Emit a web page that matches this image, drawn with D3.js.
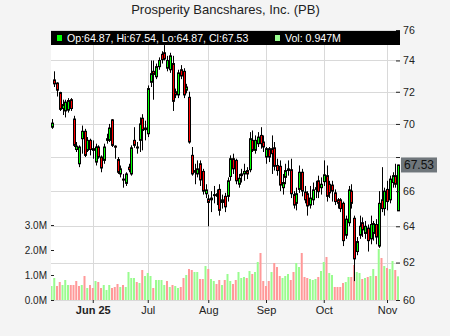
<!DOCTYPE html>
<html>
<head>
<meta charset="utf-8">
<script src="https://cdn.jsdelivr.net/npm/d3@7"></script>
<style>
  body { margin: 0; background: #f4f4f4; }
  text { font-family: "Liberation Sans", Arial, sans-serif; }
</style>
</head>
<body>
<div id="chart"></div>
<script>
// trading days shown
const dates = [
  "2025-05-09","2025-05-12","2025-05-13","2025-05-14","2025-05-15","2025-05-16","2025-05-19","2025-05-20","2025-05-21","2025-05-22",
  "2025-05-23","2025-05-27","2025-05-28","2025-05-29","2025-05-30","2025-06-02","2025-06-03","2025-06-04","2025-06-05","2025-06-06",
  "2025-06-09","2025-06-10","2025-06-11","2025-06-12","2025-06-13","2025-06-16","2025-06-17","2025-06-18","2025-06-20","2025-06-23",
  "2025-06-24","2025-06-25","2025-06-26","2025-06-27","2025-06-30","2025-07-01","2025-07-02","2025-07-03","2025-07-07","2025-07-08",
  "2025-07-09","2025-07-10","2025-07-11","2025-07-14","2025-07-15","2025-07-16","2025-07-17","2025-07-18","2025-07-21","2025-07-22",
  "2025-07-23","2025-07-24","2025-07-25","2025-07-28","2025-07-29","2025-07-30","2025-07-31","2025-08-01","2025-08-04","2025-08-05",
  "2025-08-06","2025-08-07","2025-08-08","2025-08-11","2025-08-12","2025-08-13","2025-08-14","2025-08-15","2025-08-18","2025-08-19",
  "2025-08-20","2025-08-21","2025-08-22","2025-08-25","2025-08-26","2025-08-27","2025-08-28","2025-08-29","2025-09-02","2025-09-03",
  "2025-09-04","2025-09-05","2025-09-08","2025-09-09","2025-09-10","2025-09-11","2025-09-12","2025-09-15","2025-09-16","2025-09-17",
  "2025-09-18","2025-09-19","2025-09-22","2025-09-23","2025-09-24","2025-09-25","2025-09-26","2025-09-29","2025-09-30","2025-10-01",
  "2025-10-02","2025-10-03","2025-10-06","2025-10-07","2025-10-08","2025-10-09","2025-10-10","2025-10-13","2025-10-14","2025-10-15",
  "2025-10-16","2025-10-17","2025-10-20","2025-10-21","2025-10-22","2025-10-23","2025-10-24","2025-10-27","2025-10-28","2025-10-29",
  "2025-10-30","2025-10-31","2025-11-03","2025-11-04","2025-11-05","2025-11-06","2025-11-07"
];

const open = [
  69.8,72.75,72.55,71.95,70.95,70.8,70.85,71.5,70.3,68.45,
  67.6,69.1,69.55,68.4,69.0,68.5,67.7,68.6,68.0,67.8,
  69.0,69.0,70.25,68.65,67.85,67.0,66.7,66.45,67.4,67.0,
  69.0,68.6,69.0,70.35,69.65,69.4,72.6,73.3,72.95,73.6,
  74.4,74.5,73.5,73.4,73.8,72.0,71.8,73.4,73.3,72.1,
  71.65,68.1,67.1,67.0,67.6,67.15,65.85,65.55,65.5,65.75,
  65.85,66.1,65.35,65.7,65.7,66.85,67.9,67.8,66.4,66.9,
  67.0,67.2,67.25,69.0,68.4,68.8,69.3,68.9,68.0,68.5,
  68.5,68.55,67.5,67.45,66.2,66.8,67.2,67.25,65.8,65.3,
  66.1,67.1,65.95,65.85,65.2,65.5,66.1,66.6,66.2,66.55,
  66.9,66.4,66.35,65.9,65.5,65.5,65.3,63.5,64.2,66.0,
  64.45,62.6,63.5,64.2,63.6,63.9,63.3,63.6,64.1,62.9,
  65.5,65.0,66.1,65.5,66.5,66.9,64.87
];
const high = [
  70.3,73.3,72.6,72.0,71.5,71.5,71.6,71.6,70.5,68.9,
  68.7,69.9,69.7,69.2,69.1,69.0,68.8,68.7,68.1,68.8,
  69.4,70.0,70.3,68.7,68.0,67.5,67.0,67.1,67.6,68.7,
  69.8,68.9,70.4,70.6,70.2,72.4,74.0,74.0,73.8,74.2,
  74.6,75.0,74.3,74.5,74.3,72.2,73.4,73.7,73.5,72.5,
  72.0,68.6,67.6,67.8,67.8,67.3,66.4,65.8,66.0,66.3,
  66.1,66.4,65.8,65.9,66.8,68.1,68.2,67.9,67.0,67.3,
  67.6,67.4,69.5,69.6,69.3,69.5,69.8,69.3,68.6,68.6,
  69.3,68.9,67.9,67.8,67.0,67.6,67.8,67.9,66.0,66.2,
  67.5,67.3,66.3,66.0,66.3,66.5,66.6,66.9,66.8,67.8,
  67.5,66.6,66.6,66.1,65.6,65.6,65.4,64.6,66.3,66.4,
  64.6,63.4,64.6,64.5,64.3,64.1,64.6,64.3,64.4,66.0,
  67.4,66.2,66.6,66.9,67.1,67.6,67.54
];
const low = [
  69.7,72.3,71.7,70.8,70.55,70.4,70.7,70.8,68.6,68.3,
  67.4,68.2,68.0,68.3,68.1,67.9,67.5,67.9,67.1,67.6,
  68.8,68.9,68.6,67.9,67.0,66.8,66.2,66.3,67.1,66.9,
  68.55,68.2,68.3,68.4,69.0,69.2,72.3,71.5,72.8,73.4,
  73.8,74.0,73.3,73.2,70.8,71.6,71.6,72.8,71.6,71.9,
  68.8,66.9,66.4,66.8,66.3,65.8,65.6,64.0,64.8,65.3,
  65.2,64.6,65.0,64.8,65.4,66.6,67.0,66.4,66.2,66.5,
  66.6,66.7,67.1,68.3,68.2,68.6,68.5,68.3,67.6,67.7,
  67.0,67.2,66.9,66.0,65.8,66.4,66.9,65.6,65.0,64.9,
  65.9,65.7,65.3,64.6,65.0,65.2,65.6,65.6,65.8,66.3,
  65.4,65.6,65.4,65.2,65.0,64.8,62.9,63.3,64.0,65.0,
  61.0,62.4,63.3,63.4,63.3,62.6,63.0,63.2,63.0,62.8,
  64.8,64.6,64.9,65.3,66.2,66.2,64.87
];
const close = [
  70.05,72.5,72.1,70.9,71.2,71.35,71.45,70.95,68.7,68.65,
  68.6,69.55,68.1,69.0,68.45,68.4,68.6,68.0,67.35,68.6,
  69.1,69.75,68.7,68.6,67.1,67.3,66.65,67.0,67.25,68.55,
  68.7,68.55,70.0,69.6,69.75,72.2,73.15,73.1,73.6,74.0,
  74.05,74.1,74.0,74.3,71.4,71.8,73.2,73.0,71.8,72.3,
  68.9,67.0,67.2,67.3,66.65,66.0,66.07,65.35,65.6,65.8,
  65.7,64.9,65.5,65.1,66.6,67.9,67.3,66.6,66.75,67.0,
  67.15,67.0,69.1,68.4,69.0,69.2,68.8,68.6,68.5,68.0,
  68.2,67.45,67.2,66.35,66.5,67.2,67.3,65.85,65.2,65.85,
  67.1,66.0,65.5,65.15,65.6,66.07,66.2,65.97,66.4,66.95,
  65.7,65.9,66.0,65.4,65.3,65.0,63.2,64.4,66.07,65.3,
  62.2,63.15,64.0,63.8,64.0,63.2,64.1,64.15,63.4,65.3,
  65.0,66.0,65.4,66.7,66.9,66.4,67.53
];
// volume in millions of shares
const volume = [
  0.56,0.88,0.56,0.72,0.60,0.80,0.60,0.60,0.60,0.76,
  0.56,0.60,0.96,0.48,0.60,0.48,0.76,0.72,0.48,0.60,
  0.40,0.60,0.48,0.52,0.64,0.52,0.60,0.52,1.12,0.88,
  0.88,0.72,0.68,1.20,0.96,1.08,0.96,0.48,0.80,0.80,
  0.80,0.60,0.76,0.52,0.60,0.56,0.48,0.52,0.88,1.00,
  1.24,1.20,1.12,1.12,0.84,0.84,1.36,1.24,0.84,0.76,
  0.64,0.80,0.60,0.80,1.04,0.76,0.64,0.80,1.12,0.88,
  0.92,0.88,1.16,1.04,1.12,1.52,1.88,0.76,0.56,0.76,
  1.12,1.48,1.32,0.96,0.88,0.96,1.04,0.80,1.12,1.48,
  1.32,1.88,0.92,0.88,0.84,0.80,0.84,0.92,1.16,1.52,
  1.72,1.08,1.00,0.52,0.52,0.52,0.68,0.72,0.92,0.92,
  1.40,1.12,1.08,0.84,0.88,0.92,0.96,1.24,0.96,2.04,
  1.68,1.36,1.28,1.24,1.56,1.20,0.947
];

const monthTicks = ["2025-06-02","2025-07-01","2025-08-01","2025-09-02","2025-10-01","2025-11-03"];
const monthLabels = ["Jun 25","Jul","Aug","Sep","Oct","Nov"];
const priceTicks = [60, 62, 64, 66, 68, 70, 72, 74, 76];
const volTicks = [0, 1, 2, 3];

const W = 450, H = 336;
const plot = { left: 51, right: 400, top: 30, bottom: 300 };

const data = dates.map((d, i) => ({
  date: d, o: open[i], h: high[i], l: low[i], c: close[i], v: volume[i],
  volUp: i === 0 ? close[i] >= open[i] : close[i] >= close[i - 1]
}));
const last = data[data.length - 1];

const x = d3.scalePoint().domain(dates).range([51.5, 398]);
const y = d3.scaleLog().domain([60, 76]).range([plot.bottom, plot.top]);
const yVol = d3.scaleLinear().domain([0, 3]).range([plot.bottom, 225]);

const svg = d3.select("#chart").append("svg")
  .attr("width", W).attr("height", H)
  .style("display", "block");

svg.append("rect").attr("width", W).attr("height", H).attr("fill", "#f4f4f4");

svg.append("defs").append("clipPath").attr("id", "clip")
  .append("rect")
    .attr("x", plot.left).attr("y", plot.top)
    .attr("width", plot.right - plot.left).attr("height", plot.bottom - plot.top);

svg.append("rect")
  .attr("x", plot.left).attr("y", plot.top)
  .attr("width", plot.right - plot.left).attr("height", plot.bottom - plot.top)
  .attr("fill", "#fff");

// grid
const grid = svg.append("g").attr("stroke", "#d9d9d9").attr("stroke-width", 1);
grid.selectAll(".hg").data(priceTicks).join("line")
  .attr("x1", plot.left).attr("x2", plot.right)
  .attr("y1", d => Math.round(y(d)) + 0.5).attr("y2", d => Math.round(y(d)) + 0.5);
grid.selectAll(".vg").data(monthTicks).join("line")
  .attr("x1", d => Math.round(x(d)) + 0.5).attr("x2", d => Math.round(x(d)) + 0.5)
  .attr("y1", plot.top).attr("y2", plot.bottom);

const body = svg.append("g").attr("clip-path", "url(#clip)");

// volume bars
body.append("g").selectAll("rect").data(data).join("rect")
  .attr("x", d => x(d.date) - 1)
  .attr("width", 2)
  .attr("y", d => yVol(d.v))
  .attr("height", d => plot.bottom - yVol(d.v))
  .attr("fill", d => d.volUp ? "#99fc8f" : "#ff9999");

// candles
const candles = body.append("g").selectAll("g").data(data).join("g");
candles.append("line")
  .attr("x1", d => Math.round(x(d.date)) + 0.5).attr("x2", d => Math.round(x(d.date)) + 0.5)
  .attr("y1", d => y(d.h)).attr("y2", d => y(d.l))
  .attr("stroke", "#000").attr("stroke-width", 1);
candles.append("rect")
  .attr("x", d => Math.round(x(d.date)) - 0.5)
  .attr("width", 2)
  .attr("y", d => y(Math.max(d.o, d.c)))
  .attr("height", d => Math.max(1, Math.abs(y(d.o) - y(d.c))))
  .attr("fill", d => d.c >= d.o ? "#00ff00" : "#ff0000")
  .attr("stroke", "#000").attr("stroke-width", 1);

// last price tag position; tick labels under it are hidden
const tagY = y(last.c);

// right price axis
const yAxis = svg.append("g")
  .attr("transform", `translate(${plot.right},0)`)
  .call(d3.axisRight(y).tickValues(priceTicks).tickFormat(d3.format("d")).tickSize(-4).tickPadding(3));
yAxis.select(".domain").remove();
yAxis.selectAll("text").style("font-size", "10.6px").attr("fill", "#222")
  .style("display", d => Math.abs(y(d) - tagY) < 13 ? "none" : null);
yAxis.selectAll("line").attr("stroke", "#222");

// left volume axis
const vAxis = svg.append("g")
  .attr("transform", `translate(${plot.left},0)`)
  .call(d3.axisLeft(yVol).tickValues(volTicks).tickFormat(d => d.toFixed(1) + "M").tickSize(-3).tickPadding(4));
vAxis.select(".domain").remove();
vAxis.selectAll("text").style("font-size", "10px").attr("fill", "#222");
vAxis.selectAll("line").attr("stroke", "#222");

// bottom date axis
const xAxis = svg.append("g")
  .attr("transform", `translate(0,${plot.bottom})`)
  .call(d3.axisBottom(x).tickValues(monthTicks).tickFormat((d, i) => monthLabels[i]).tickSize(3).tickPadding(3));
xAxis.select(".domain").remove();
xAxis.selectAll("text").style("font-size", "11px").attr("fill", "#222")
  .style("font-weight", (d, i) => i === 0 ? "bold" : "normal");
xAxis.selectAll("line").attr("stroke", "#222");

// last price tag
svg.append("rect")
  .attr("x", 401).attr("y", tagY - 7.5).attr("width", 36).attr("height", 15)
  .attr("fill", "#6f767b");
svg.append("text")
  .attr("x", 404).attr("y", tagY + 4.3)
  .style("font-size", "12px").attr("fill", "#111")
  .text(last.c.toFixed(2));

// legend bar
svg.append("rect")
  .attr("x", plot.left).attr("y", 31).attr("width", plot.right - plot.left).attr("height", 14)
  .attr("fill", "#000");
svg.append("rect").attr("x", 57).attr("y", 35).attr("width", 5).attr("height", 6).attr("fill", "#00ff00");
svg.append("text").attr("x", 67).attr("y", 42)
  .style("font-size", "10.6px").attr("fill", "#fff")
  .text(`Op:${last.o.toFixed(2)}, Hi:${last.h.toFixed(2)}, Lo:${last.l.toFixed(2)}, Cl:${last.c.toFixed(2)}`);
svg.append("rect").attr("x", 275).attr("y", 35).attr("width", 5).attr("height", 6).attr("fill", "#99fc8f");
svg.append("text").attr("x", 285).attr("y", 42)
  .style("font-size", "10.6px").attr("fill", "#fff")
  .text(`Vol: ${last.v.toFixed(3)}M`);

// title
svg.append("text")
  .attr("x", 225.5).attr("y", 13.5)
  .attr("text-anchor", "middle")
  .style("font-size", "13px").attr("fill", "#222")
  .text("Prosperity Bancshares, Inc. (PB)");
</script>
</body>
</html>
